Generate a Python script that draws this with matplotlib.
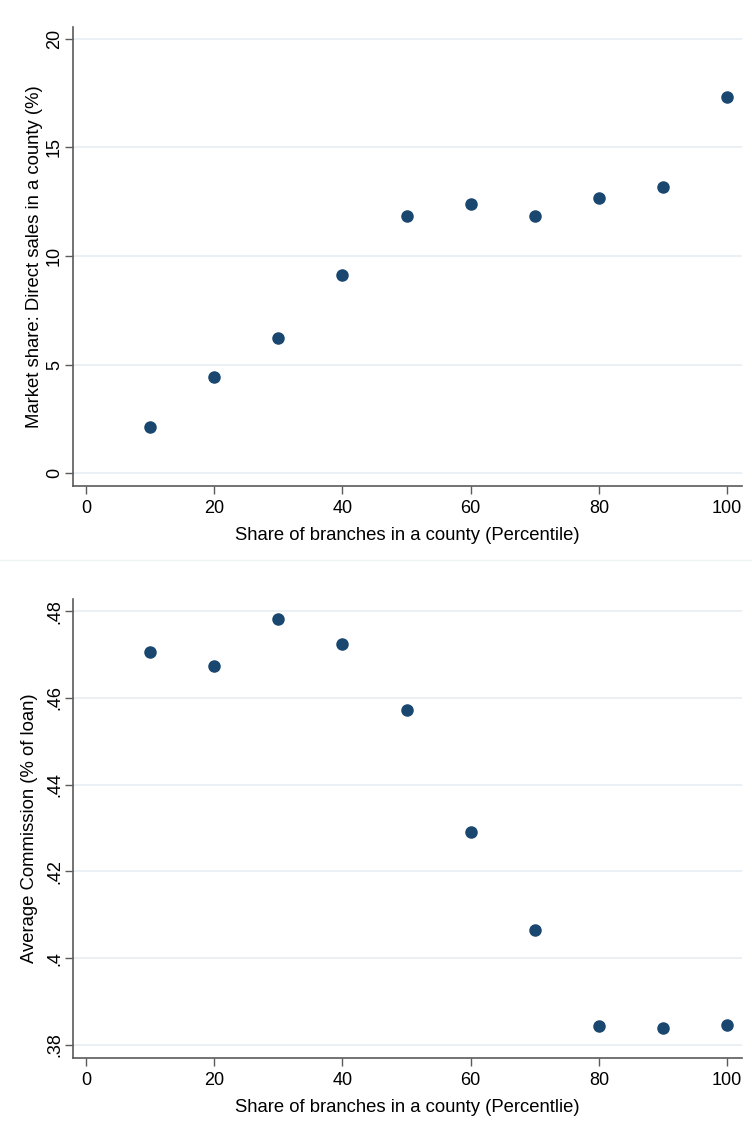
import matplotlib.pyplot as plt
from matplotlib.lines import Line2D

# percentile bins of branch share
pct = [10, 20, 30, 40, 50, 60, 70, 80, 90, 100]

# panel 1: market share of direct sales (%)
share_direct = [2.12, 4.42, 6.22, 9.12, 11.84, 12.38, 11.84, 12.65, 13.18, 17.33]

# panel 2: average commission (% of loan)
avg_commission = [0.4706, 0.4673, 0.4783, 0.4725, 0.4572, 0.4290, 0.4064, 0.3844, 0.3840, 0.3846]

xticks = [0, 20, 40, 60, 80, 100]
yticks_top = [0, 5, 10, 15, 20]
yticks_bot = [0.38, 0.40, 0.42, 0.44, 0.46, 0.48]
ylabels_bot = ['.38', '.4', '.42', '.44', '.46', '.48']

plt.rcParams['font.family'] = ['Liberation Sans', 'DejaVu Sans']
navy = '#1a476f'
grid_col = '#e6eef1'
axis_col = '#5a5a5a'


def style_axes(ax, yticks, ylabels, ylabel, xlabel, ypad):
    ax.set_xticks(xticks)
    ax.set_yticks(yticks)
    ax.set_yticklabels(ylabels, rotation=90, va='center')
    ax.tick_params(axis='both', direction='out', length=5.8, width=1,
                   color=axis_col, labelsize=13)
    ax.tick_params(axis='x', pad=4.5)
    ax.tick_params(axis='y', pad=1.5)
    ax.yaxis.grid(True, color=grid_col, linewidth=1.2)
    ax.set_axisbelow(True)
    for s in ['top', 'right']:
        ax.spines[s].set_visible(False)
    for s in ['left', 'bottom']:
        ax.spines[s].set_color(axis_col)
        ax.spines[s].set_linewidth(1.2)
    ax.set_ylabel(ylabel, fontsize=13.3, labelpad=ypad)
    ax.set_xlabel(xlabel, fontsize=13.3, labelpad=7)


fig = plt.figure(figsize=(7.52, 11.22), dpi=100)

ax1 = fig.add_axes([0.0971, 0.5668, 0.8896, 0.4091])
ax1.plot(pct, share_direct, 'o', color=navy, ms=8, mec=navy)
ax1.set_xlim(-2.0, 102.3)
ax1.set_ylim(-0.6, 20.55)
style_axes(ax1, yticks_top, [str(v) for v in yticks_top],
           'Market share: Direct sales in a county (%)',
           'Share of branches in a county (Percentile)', ypad=2)

ax2 = fig.add_axes([0.0971, 0.0570, 0.8896, 0.4091])
ax2.plot(pct, avg_commission, 'o', color=navy, ms=8, mec=navy)
ax2.set_xlim(-2.0, 102.3)
ax2.set_ylim(0.377, 0.4828)
style_axes(ax2, yticks_bot, ylabels_bot,
           'Average Commission (% of loan)',
           'Share of branches in a county (Percentlie)', ypad=5.5)

# faint separator between the two panels
fig.add_artist(Line2D([0, 1], [1 - 560 / 1122, 1 - 560 / 1122],
                      color='#eef3f4', linewidth=1))

fig.savefig('out.png', dpi=100)
